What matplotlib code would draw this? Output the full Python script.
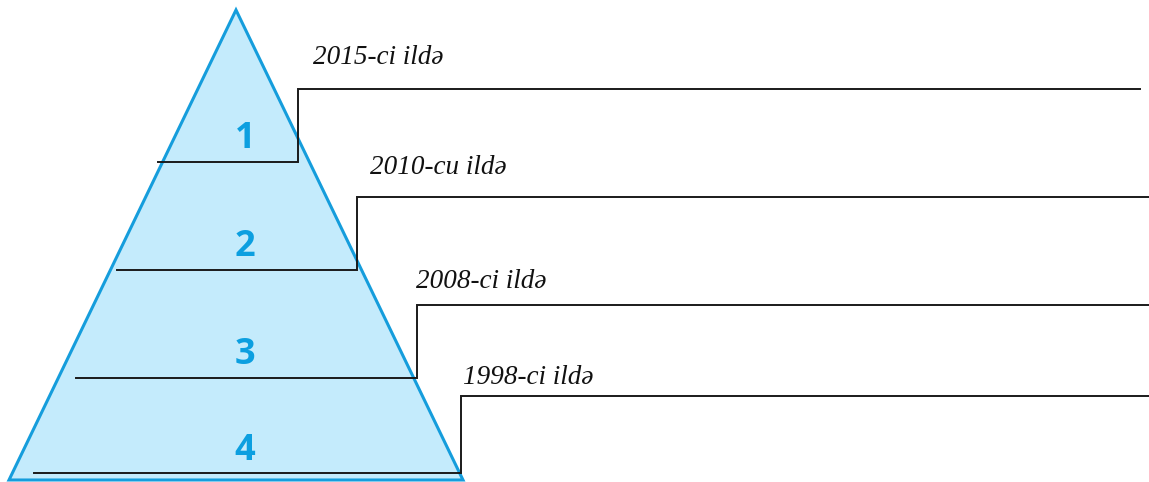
import matplotlib
matplotlib.use("Agg")
import matplotlib.pyplot as plt
from matplotlib.patches import Polygon

# Data
level_numbers = ["1", "2", "3", "4"]
year_labels = ["2015-ci ildə", "2010-cu ildə", "2008-ci ildə", "1998-ci ildə"]

# Layout (pixel coordinates)
W, H = 1149, 482
apex = (236, 10)
base_left = (9, 480)
base_right = (463, 480)
inner_y = [162, 270, 378, 473]
inner_x0 = [158, 117, 76, 34]
step_x = [298, 357, 417, 461]
top_y = [89, 197, 305, 396]
right_x = [1140, 1149, 1149, 1149]
label_pos = [(313, 58), (370, 167), (416, 282), (463, 377)]
num_pos = [(245, 139), (245, 247), (245, 355), (245, 451)]

fig = plt.figure(figsize=(W / 100, H / 100), dpi=100)
ax = fig.add_axes([0, 0, 1, 1])
ax.set_xlim(0, W)
ax.set_ylim(H, 0)
ax.axis("off")

tri = Polygon([apex, base_right, base_left], closed=True,
              facecolor="#c4ebfc", edgecolor="#159ddc", linewidth=2.2, zorder=1)
ax.add_patch(tri)

for i in range(4):
    ax.plot([inner_x0[i], step_x[i], step_x[i], right_x[i]],
            [inner_y[i], inner_y[i], top_y[i], top_y[i]],
            color="#1a1a1a", linewidth=1.4, solid_joinstyle="miter", zorder=3)
    ax.text(label_pos[i][0], label_pos[i][1], year_labels[i],
            fontsize=19.5, fontstyle="italic", family="Liberation Serif",
            ha="left", va="center", color="#111111", zorder=4)
    ax.text(num_pos[i][0], num_pos[i][1], level_numbers[i],
            fontsize=26, fontweight="bold", family="Open Sans",
            ha="center", va="center", color="#0c9fe0", zorder=4)

fig.savefig("out.png", dpi=100)
